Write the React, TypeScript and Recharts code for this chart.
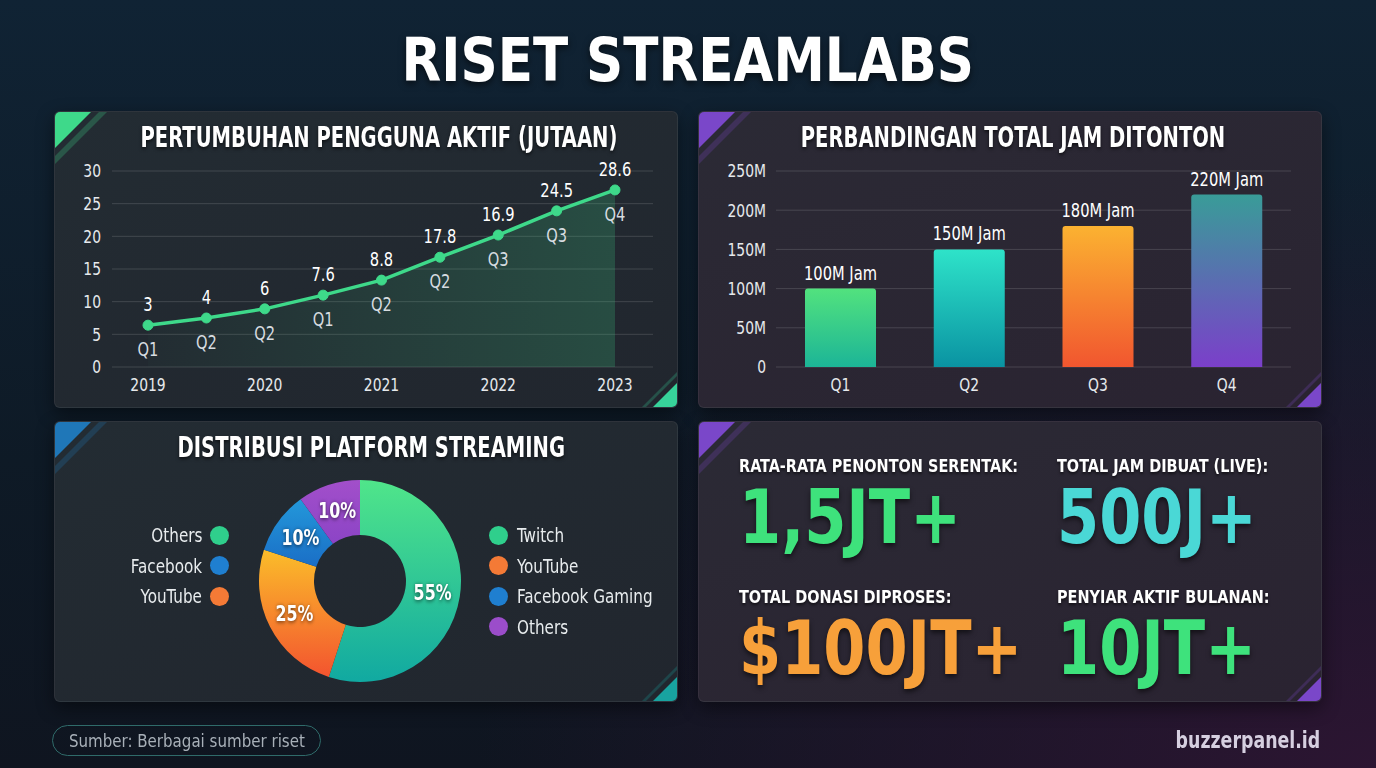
import {
  ComposedChart,
  Line,
  Area,
  BarChart,
  Bar,
  Cell,
  XAxis,
  YAxis,
  CartesianGrid,
  LabelList,
  PieChart,
  Pie,
} from 'recharts';

// line chart: user growth (positions read from the plotted points, labels as printed)
const periodIndex = [0, 1, 2, 3, 4, 5, 6, 7, 8];
const userValues = [6.4, 7.5, 8.9, 11.0, 13.3, 16.8, 20.2, 23.9, 27.1];
const userLabels = ['3', '4', '6', '7.6', '8.8', '17.8', '16.9', '24.5', '28.6'];
const quarterLabels = ['Q1', 'Q2', 'Q2', 'Q1', 'Q2', 'Q2', 'Q3', 'Q3', 'Q4'];
const yearTicks = ['2019', '2020', '2021', '2022', '2023'];
const userTicks = [0, 5, 10, 15, 20, 25, 30];

// bar chart: watched hours
const quarters = ['Q1', 'Q2', 'Q3', 'Q4'];
const hoursWatched = [100, 150, 180, 220];
const hoursTicks = [0, 50, 100, 150, 200, 250];

// donut: platform share
const platforms = ['Twitch', 'YouTube', 'Facebook Gaming', 'Others'];
const platformShare = [55, 25, 10, 10];
const leftLegend = ['Others', 'Facebook', 'YouTube'];
const leftLegendColors = ['#2fcf8c', '#1f7fd0', '#f47a36'];
const rightLegendColors = ['#2fcf8c', '#f47a36', '#1f7fd0', '#9b4dca'];

// stat tiles
const statLabels = ['RATA-RATA PENONTON SERENTAK:', 'TOTAL JAM DIBUAT (LIVE):', 'TOTAL DONASI DIPROSES:', 'PENYIAR AKTIF BULANAN:'];
const statValues = ['1,5JT+', '500J+', '$100JT+', '10JT+'];
const statColors = ['#3ee27c', '#4ad8d6', '#f7a03a', '#3ee27c'];

const FONT = "'DejaVu Sans Condensed', 'DejaVu Sans', sans-serif";

const lineData = periodIndex.map((i) => ({
  idx: i,
  users: userValues[i],
  label: userLabels[i],
  quarter: quarterLabels[i],
}));

const barData = quarters.map((q, i) => ({ q, hours: hoursWatched[i] }));

const pieData = platforms.map((p, i) => ({ name: p, value: platformShare[i] }));

const barGradients = [
  ['#52e27e', '#1cb597'],
  ['#2ee3c9', '#0a93a2'],
  ['#fbb231', '#f1562f'],
  ['#399c98', '#7b3fca'],
];
const pieGradients = [
  ['#50e58a', '#11a9a1'],
  ['#fbbd2a', '#f3542f'],
  ['#2398da', '#1a6ec6'],
  ['#a24fca', '#8c44c6'],
];

// horizontally squeezed html text, to mimic the condensed face
const Sq = ({ k, origin = 'left', children }: any) => (
  <span style={{ display: 'inline-block', transform: `scaleX(${k})`, transformOrigin: origin, whiteSpace: 'nowrap' }}>
    {children}
  </span>
);

// same for svg text
const SqText = ({ x, y, k = 0.86, children, ...rest }: any) => (
  <text transform={`translate(${x},${y}) scale(${k},1)`} x={0} y={0} fontFamily={FONT} {...rest}>
    {children}
  </text>
);

const Panel = ({ left, top, height, accent, accent2, purple, children }: any) => (
  <div
    style={{
      position: 'absolute',
      left,
      top,
      width: 624,
      height,
      borderRadius: 6,
      background: purple
        ? 'linear-gradient(160deg, #2b2a35 0%, #2a2331 100%)'
        : 'linear-gradient(160deg, #232c33 0%, #21262e 100%)',
      border: '1px solid rgba(255,255,255,0.06)',
      boxShadow: '0 6px 18px rgba(0,0,0,0.45)',
      overflow: 'hidden',
      boxSizing: 'border-box',
    }}
  >
    <svg width={624} height={height} style={{ position: 'absolute', left: 0, top: 0 }}>
      <polygon points="0,0 36,0 0,36" fill={accent} />
      <polygon points="44,0 52,0 0,52 0,44" fill={accent} opacity={0.25} />
      <polygon points={`624,${height - 28} 624,${height} 596,${height}`} fill={accent2} />
      <polygon points={`624,${height - 39} 624,${height - 35} ${589},${height} ${585},${height}`} fill={accent2} opacity={0.25} />
    </svg>
    {children}
  </div>
);

const Title = ({ text, cx }: { text: string; cx: number }) => (
  <div
    style={{
      position: 'absolute',
      left: cx - 450,
      width: 900,
      top: 8,
      textAlign: 'center',
      color: '#ffffff',
      fontFamily: FONT,
      fontWeight: 700,
      fontSize: 29,
      textShadow: '0 2px 4px rgba(0,0,0,0.6)',
    }}
  >
    <Sq k={0.75} origin="center">{text}</Sq>
  </div>
);

const PointLabels = (props: any) => {
  const { x, y, index } = props;
  return (
    <g>
      <SqText x={x} y={y - 14} textAnchor="middle" fill="#ffffff" fontSize={19}>
        {userLabels[index]}
      </SqText>
      <SqText x={x} y={y + 31} textAnchor="middle" fill="#d7dce0" fontSize={19}>
        {quarterLabels[index]}
      </SqText>
    </g>
  );
};

const BarTopLabel = (props: any) => {
  const { x, y, width, value } = props;
  return (
    <SqText x={x + width / 2} y={y - 9} textAnchor="middle" fill="#ffffff" fontSize={19}>
      {`${value}M Jam`}
    </SqText>
  );
};

const YearTick = (props: any) => (
  <SqText x={props.x} y={props.y} dy="0.71em" textAnchor="middle" fill="#e6e9ec" fontSize={18}>
    {yearTicks[props.payload.value / 2]}
  </SqText>
);
const QuarterTick = (props: any) => (
  <SqText x={props.x} y={props.y} dy="0.71em" textAnchor="middle" fill="#e6e9ec" fontSize={18}>
    {props.payload.value}
  </SqText>
);
const UserTick = (props: any) => (
  <SqText x={props.x} y={props.y} dy="0.355em" textAnchor="end" fill="#e6e9ec" fontSize={18}>
    {props.payload.value}
  </SqText>
);
const HoursTick = (props: any) => (
  <SqText x={props.x} y={props.y} dy="0.355em" textAnchor="end" fill="#e6e9ec" fontSize={18}>
    {props.payload.value === 0 ? '0' : `${props.payload.value}M`}
  </SqText>
);

const RADIAN = Math.PI / 180;
const renderPieLabel = (props: any) => {
  const { cx, cy, midAngle, innerRadius, outerRadius, value } = props;
  const r = (innerRadius + outerRadius) / 2;
  const x = cx + r * Math.cos(-midAngle * RADIAN);
  const y = cy + r * Math.sin(-midAngle * RADIAN);
  return (
    <SqText
      x={x}
      y={y}
      k={0.84}
      textAnchor="middle"
      dominantBaseline="central"
      fill="#ffffff"
      fontWeight={700}
      fontSize={21}
      style={{ filter: 'drop-shadow(0 1px 2px rgba(0,0,0,0.6))' }}
    >
      {value}%
    </SqText>
  );
};

export default function App() {
  return (
    <div
      style={{
        position: 'absolute',
        left: 0,
        top: 0,
        width: 1376,
        height: 768,
        overflow: 'hidden',
        fontFamily: FONT,
        background:
          'radial-gradient(ellipse 900px 600px at 100% 100%, #2c1532 0%, rgba(44,21,50,0) 100%), linear-gradient(180deg, #102334 0%, #0e1a26 60%, #0f1520 100%)',
      }}
    >
      <div
        style={{
          position: 'absolute',
          left: 0,
          width: 1376,
          top: 25,
          textAlign: 'center',
          color: '#ffffff',
          fontFamily: "'DejaVu Sans', sans-serif",
          fontWeight: 700,
          fontSize: 60,
          textShadow: '0 3px 8px rgba(0,0,0,0.6)',
        }}
      >
        <Sq k={0.86} origin="center">RISET STREAMLABS</Sq>
      </div>

      {/* panel 1: line */}
      <Panel left={54} top={111} height={297} accent="#3ed98a" accent2="#37d39a">
        <Title text="PERTUMBUHAN PENGGUNA AKTIF (JUTAAN)" cx={324} />
        <div style={{ position: 'absolute', left: 0, top: 0 }}>
          <ComposedChart width={624} height={297} data={lineData} margin={{ top: 59, right: 26, bottom: 12, left: 17 }}>
            <defs>
              <linearGradient id="areaFill" x1="0" y1="0" x2="1" y2="0">
                <stop offset="0%" stopColor="#3ed98a" stopOpacity={0.03} />
                <stop offset="100%" stopColor="#3ed98a" stopOpacity={0.35} />
              </linearGradient>
            </defs>
            <CartesianGrid vertical={false} stroke="rgba(255,255,255,0.14)" />
            <XAxis
              dataKey="idx"
              type="number"
              domain={[0, 8]}
              ticks={[0, 2, 4, 6, 8]}
              padding={{ left: 36, right: 38 }}
              axisLine={false}
              tickLine={false}
              tickSize={0}
              tickMargin={11}
              height={30}
              tick={YearTick}
            />
            <YAxis
              domain={[0, 30]}
              ticks={userTicks}
              axisLine={false}
              tickLine={false}
              tickSize={0}
              tickMargin={11}
              width={40}
              tick={UserTick}
            />
            <Area dataKey="users" stroke="none" fill="url(#areaFill)" isAnimationActive={false} type="linear" />
            <Line
              dataKey="users"
              type="linear"
              stroke="#3ed98a"
              strokeWidth={3.5}
              dot={{ r: 5, fill: '#3ed98a', stroke: '#3ed98a', strokeWidth: 1 }}
              isAnimationActive={false}
            >
              <LabelList dataKey="users" content={PointLabels} />
            </Line>
          </ComposedChart>
        </div>
      </Panel>

      {/* panel 2: bars */}
      <Panel left={698} top={111} height={297} accent="#7a47c9" accent2="#7a47c9" purple>
        <Title text="PERBANDINGAN TOTAL JAM DITONTON" cx={314} />
        <div style={{ position: 'absolute', left: 0, top: 0 }}>
          <BarChart width={624} height={297} data={barData} margin={{ top: 59, right: 32, bottom: 12, left: 17 }}>
            <defs>
              {barGradients.map((g, i) => (
                <linearGradient key={i} id={`bar${i}`} x1="0" y1="0" x2="0" y2="1">
                  <stop offset="0%" stopColor={g[0]} />
                  <stop offset="100%" stopColor={g[1]} />
                </linearGradient>
              ))}
            </defs>
            <CartesianGrid vertical={false} stroke="rgba(255,255,255,0.14)" />
            <XAxis
              dataKey="q"
              axisLine={false}
              tickLine={false}
              tickSize={0}
              tickMargin={11}
              height={30}
              tick={QuarterTick}
            />
            <YAxis
              domain={[0, 250]}
              ticks={hoursTicks}
              axisLine={false}
              tickLine={false}
              tickSize={0}
              tickMargin={10}
              width={60}
              tick={HoursTick}
            />
            <Bar dataKey="hours" barSize={71} radius={[3, 3, 0, 0]} isAnimationActive={false}>
              {barData.map((_, i) => (
                <Cell key={i} fill={`url(#bar${i})`} />
              ))}
              <LabelList dataKey="hours" content={BarTopLabel} />
            </Bar>
          </BarChart>
        </div>
      </Panel>

      {/* panel 3: donut */}
      <Panel left={54} top={421} height={281} accent="#1f77b8" accent2="#18a3a0">
        <Title text="DISTRIBUSI PLATFORM STREAMING" cx={316} />
        <div style={{ position: 'absolute', left: 200, top: 54 }}>
          <PieChart width={210} height={210} margin={{ top: 0, right: 0, bottom: 0, left: 0 }}>
            <defs>
              {pieGradients.map((g, i) => (
                <linearGradient key={i} id={`pie${i}`} x1="0" y1="0" x2="0" y2="1">
                  <stop offset="0%" stopColor={g[0]} />
                  <stop offset="100%" stopColor={g[1]} />
                </linearGradient>
              ))}
            </defs>
            <Pie
              data={pieData}
              dataKey="value"
              cx={105}
              cy={105}
              innerRadius={46}
              outerRadius={101}
              startAngle={90}
              endAngle={-270}
              stroke="none"
              label={renderPieLabel}
              labelLine={false}
              isAnimationActive={false}
            >
              {pieData.map((_, i) => (
                <Cell key={i} fill={`url(#pie${i})`} />
              ))}
            </Pie>
          </PieChart>
        </div>
        {leftLegend.map((t, i) => (
          <div key={t} style={{ position: 'absolute', left: 0, width: 174, top: 102 + i * 30.5, height: 22, display: 'flex', alignItems: 'center', justifyContent: 'flex-end', gap: 8 }}>
            <span style={{ color: '#e8ecee', fontSize: 19 }}>
              <Sq k={0.89} origin="right">{t}</Sq>
            </span>
            <span style={{ width: 19, height: 19, borderRadius: '50%', background: leftLegendColors[i], display: 'inline-block' }} />
          </div>
        ))}
        {platforms.map((t, i) => (
          <div key={t} style={{ position: 'absolute', left: 434, top: 102 + i * 30.5, height: 22, display: 'flex', alignItems: 'center', gap: 9 }}>
            <span style={{ width: 19, height: 19, borderRadius: '50%', background: rightLegendColors[i], display: 'inline-block' }} />
            <span style={{ color: '#e8ecee', fontSize: 19 }}>
              <Sq k={0.89}>{t}</Sq>
            </span>
          </div>
        ))}
      </Panel>

      {/* panel 4: stats */}
      <Panel left={698} top={421} height={281} accent="#7a47c9" accent2="#7a47c9" purple>
        {statLabels.map((t, i) => {
          const col = i % 2;
          const row = Math.floor(i / 2);
          return (
            <div key={t} style={{ position: 'absolute', left: 40 + col * 318, top: 34 + row * 131 }}>
              <div style={{ color: '#ffffff', fontWeight: 700, fontSize: 17, lineHeight: '20px', textShadow: '0 2px 3px rgba(0,0,0,0.6)' }}>
                <Sq k={0.945}>{t}</Sq>
              </div>
              <div
                style={{
                  color: statColors[i],
                  fontWeight: 700,
                  fontSize: 74,
                  lineHeight: '74px',
                  marginTop: 4,
                  textShadow: '0 3px 6px rgba(0,0,0,0.55)',
                }}
              >
                <Sq k={0.91}>{statValues[i]}</Sq>
              </div>
            </div>
          );
        })}
      </Panel>

      {/* footer */}
      <div
        style={{
          position: 'absolute',
          left: 52,
          top: 725,
          width: 269,
          height: 31,
          borderRadius: 16,
          border: '1px solid #2f6b6a',
          color: '#a8b0b8',
          fontSize: 18,
          display: 'flex',
          alignItems: 'center',
          justifyContent: 'center',
          boxSizing: 'border-box',
        }}
      >
        <Sq k={0.93} origin="center">Sumber: Berbagai sumber riset</Sq>
      </div>
      <div
        style={{
          position: 'absolute',
          right: 56,
          top: 727,
          color: '#d6cfe0',
          fontSize: 23,
          fontWeight: 700,
        }}
      >
        <Sq k={0.84} origin="right">buzzerpanel.id</Sq>
      </div>
    </div>
  );
}
